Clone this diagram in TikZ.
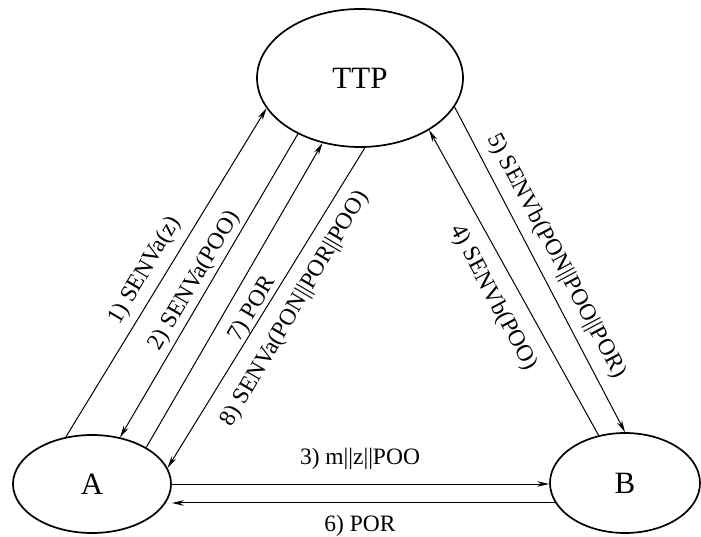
\documentclass[tikz,border=0pt]{standalone}
\usepackage{fontspec}
\setmainfont{Liberation Serif}
\usetikzlibrary{arrows.meta,shapes.geometric}
\begin{document}
\begin{tikzpicture}[x=1pt,y=-1pt,
  party/.style={draw, ellipse, line width=1.7pt, inner sep=0pt, font=\fontsize{31}{36}\selectfont},
  msg/.style={line width=1pt, -{Stealth[length=12pt,width=5.5pt]}},
  lbl/.style={inner sep=0pt, font=\fontsize{23.5}{27}\selectfont}]
\useasboundingbox (0,0) rectangle (701,537);
\node[party, minimum width=206pt, minimum height=138pt] (TTP) at (360,78) {TTP};
\node[party, minimum width=158pt, minimum height=98pt] (A) at (92,484) {A};
\node[party, minimum width=150pt, minimum height=100pt] (B) at (625,483) {B};
% A <-> TTP
\draw[msg] (A.119) -- (TTP.198);
\draw[msg] (TTP.222) -- (A.59.5);
\draw[msg] (A.34) -- (TTP.240);
\draw[msg] (TTP.274) -- (A.12);
% B <-> TTP
\draw[msg] (B.119.5) -- (TTP.323);
\draw[msg] (TTP.343) -- (B.90);
% A <-> B
\draw[msg] (A.east) -- (A.east -| B.west);
\draw[msg] (B.196) -- (B.196 -| A.east);
% labels
\node[lbl, rotate=59.5] (l1) at (145,271) {1) SENVa(z)};
\node[lbl, rotate=59.5] (l2) at (195,281) {2) SENVa(POO)};
\node[lbl, rotate=59.5] (l7) at (253,309) {7) POR};
\node[lbl, rotate=59.5] (l8) at (295,309) {8) SENVa(PON||POR||POO)};
\node[lbl, rotate=-62] (l5) at (556,256) {5) SENVb(PON||POO||POR)};
\node[lbl, rotate=-62] (l4) at (493,298) {4) SENVb(POO)};
\node[lbl] (l3) at (360,459) {3) m||z||POO};
\node[lbl] (l6) at (360,526) {6) POR};
\end{tikzpicture}
\end{document}
